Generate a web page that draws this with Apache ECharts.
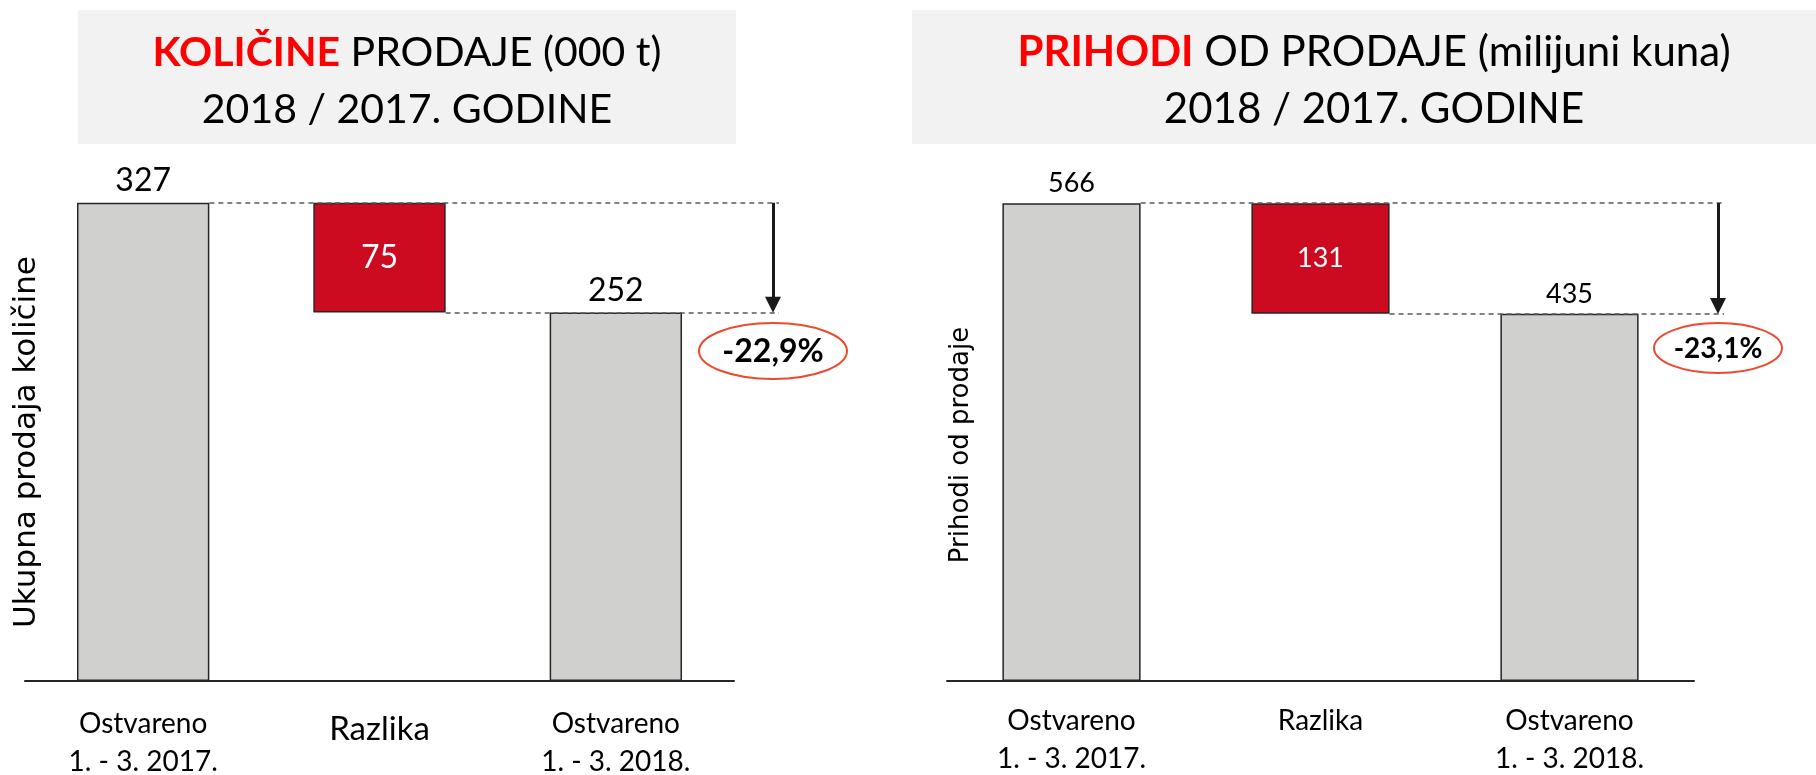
<!DOCTYPE html>
<html>
<head>
<meta charset="utf-8">
<title>Količine i prihodi od prodaje 2018 / 2017</title>
<script src="https://cdn.jsdelivr.net/npm/echarts@6/dist/echarts.min.js"></script>
<style>
  html, body { margin: 0; padding: 0; background: #fff; }
  #chart { width: 1816px; height: 775px; }
</style>
</head>
<body>
<div id="chart"></div>
<script>
  // kategorije (zajednicke za oba grafa)
  var kategorije = ['Ostvareno\n1. - 3. 2017.', 'Razlika', 'Ostvareno\n1. - 3. 2018.'];
  // kolicine prodaje, 000 t: 2017, razlika, 2018
  var kolicine = [327, 75, 252];
  // prihodi od prodaje, milijuni kuna: 2017, razlika, 2018
  var prihodi = [566, 131, 435];
  // promjena 2018 / 2017
  var promjene = ['-22,9%', '-23,1%'];

  var FONT = 'Lato, "Open Sans", sans-serif';
  var SIVA = '#d0d0ce';
  var CRVENA = '#cc0a20';

  var grids = [
    { left: 25, width: 709, top: 96, bottom: 94, outerBoundsMode: 'none' },
    { left: 947, width: 747, top: 90, bottom: 94, outerBoundsMode: 'none' }
  ];
  var barShare = [0.56, 0.555];

  // desni rub stupca i u pikselima (za isprekidane linije)
  function rightEdge(g, i) {
    var band = grids[g].width / kategorije.length;
    return grids[g].left + band * (i + 0.5) + band * barShare[g] / 2;
  }

  // waterfall: prozirna baza + vidljivi stupac
  function waterfall(idx, values, labelSize, endX) {
    var base = [0, values[2], 0];
    var bars = values.map(function (v, i) {
      return {
        value: v,
        itemStyle: { color: i === 1 ? CRVENA : SIVA },
        label: i === 1 ? { position: 'inside', color: '#fff' } : { position: 'top' }
      };
    });
    var bw = (barShare[idx] * 100) + '%';
    return [
      {
        type: 'bar',
        xAxisIndex: idx,
        yAxisIndex: idx,
        stack: 'w' + idx,
        barWidth: bw,
        silent: true,
        itemStyle: { color: 'transparent' },
        data: base,
        markLine: {
          silent: true,
          symbol: 'none',
          label: { show: false },
          lineStyle: { type: [5, 4], color: '#595959', width: 1.5 },
          data: [
            [{ coord: [0, values[0]], x: rightEdge(idx, 0) }, { coord: [2, values[0]], x: endX + 6 }],
            [{ coord: [1, values[2]], x: rightEdge(idx, 1) }, { coord: [2, values[2]], x: endX + 6 }]
          ]
        }
      },
      {
        type: 'bar',
        xAxisIndex: idx,
        yAxisIndex: idx,
        stack: 'w' + idx,
        barWidth: bw,
        silent: true,
        itemStyle: { borderColor: '#262626', borderWidth: 1.5 },
        label: {
          show: true,
          distance: 6,
          fontFamily: FONT,
          fontSize: labelSize,
          color: '#000'
        },
        data: bars,
        markLine: {
          silent: true,
          symbol: ['none', 'triangle'],
          symbolSize: 16,
          label: { show: false },
          lineStyle: { type: 'solid', color: '#1a1a1a', width: 3 },
          data: [
            [{ coord: [2, values[0]], x: endX }, { coord: [2, values[2] + values[1] * 0.07], x: endX }]
          ]
        }
      }
    ];
  }

  function naslov(crveno, ostatak, x, size) {
    return {
      text: '{r|' + crveno + '} ' + ostatak + '\n2018 / 2017. GODINE',
      left: x,
      top: 24,
      textAlign: 'center',
      padding: 0,
      textStyle: {
        fontFamily: FONT, fontSize: size, fontWeight: 'normal', color: '#000', lineHeight: 57,
        rich: { r: { fontFamily: FONT, fontSize: size, fontWeight: 'bold', color: '#ff0000', lineHeight: 57 } }
      }
    };
  }

  var myChart = echarts.init(document.getElementById('chart'));

  var option = {
    backgroundColor: '#fff',
    animation: false,
    title: [
      naslov('KOLIČINE', 'PRODAJE (000 t)', 407, 41),
      naslov('PRIHODI', 'OD PRODAJE (milijuni kuna)', 1374, 42)
    ],
    grid: grids,
    xAxis: [0, 1].map(function (i) {
      return {
        type: 'category',
        gridIndex: i,
        data: kategorije,
        axisLine: { lineStyle: { color: '#262626', width: 2 } },
        axisTick: { show: false },
        axisLabel: {
          interval: 0,
          margin: i === 0 ? 24 : 21,
          fontFamily: FONT,
          fontSize: 28,
          lineHeight: 38,
          color: '#000',
          formatter: function (v) {
            return (i === 0 && v === 'Razlika') ? '{big|' + v + '}' : v;
          },
          rich: { big: { fontFamily: FONT, fontSize: 33, lineHeight: 48, color: '#000' } }
        }
      };
    }),
    yAxis: [
      { type: 'value', gridIndex: 0, min: 0, max: 400, show: false },
      { type: 'value', gridIndex: 1, min: 0, max: 700, show: false }
    ],
    series: [].concat(
      waterfall(0, kolicine, 32, 773),
      waterfall(1, prihodi, 27, 1718)
    ),
    graphic: [
      { type: 'rect', z: -10, shape: { x: 78, y: 10, width: 658, height: 134 }, style: { fill: '#f2f2f2' } },
      { type: 'rect', z: -10, shape: { x: 912, y: 10, width: 904, height: 134 }, style: { fill: '#f2f2f2' } },
      {
        type: 'text', x: 27, y: 442, rotation: Math.PI / 2,
        style: { text: 'Ukupna prodaja količine', fontFamily: 'DejaVu Sans', fontSize: 31, fill: '#000', align: 'center', verticalAlign: 'middle' }
      },
      {
        type: 'text', x: 961, y: 445, rotation: Math.PI / 2,
        style: { text: 'Prihodi od prodaje', fontFamily: 'DejaVu Sans', fontSize: 26, fill: '#000', align: 'center', verticalAlign: 'middle' }
      },
      { type: 'ellipse', shape: { cx: 773, cy: 351, rx: 74, ry: 28 }, style: { fill: '#fff', stroke: '#ec4a2f', lineWidth: 2 } },
      {
        type: 'text', x: 773, y: 352,
        style: { text: promjene[0], fontFamily: FONT, fontWeight: 'bold', fontSize: 32, fill: '#000', align: 'center', verticalAlign: 'middle' }
      },
      { type: 'ellipse', shape: { cx: 1718, cy: 348, rx: 64, ry: 25 }, style: { fill: '#fff', stroke: '#ec4a2f', lineWidth: 2 } },
      {
        type: 'text', x: 1718, y: 349,
        style: { text: promjene[1], fontFamily: FONT, fontWeight: 'bold', fontSize: 28, fill: '#000', align: 'center', verticalAlign: 'middle' }
      }
    ]
  };

  myChart.setOption(option);
  window.addEventListener('resize', function () {
    myChart && myChart.resize();
  });
</script>
</body>
</html>
